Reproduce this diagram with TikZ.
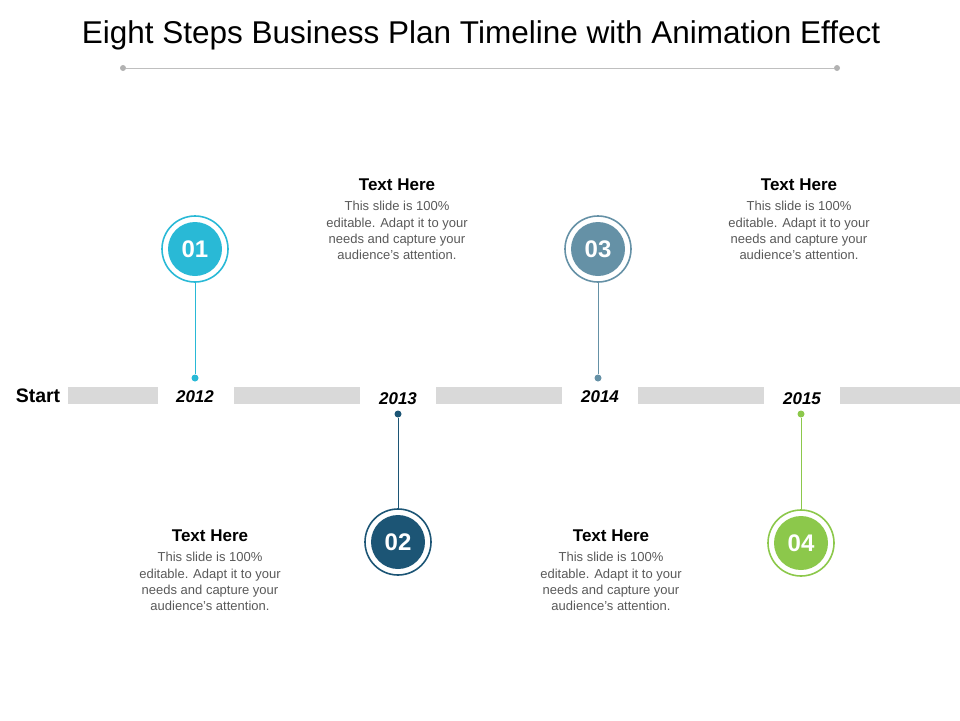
\documentclass[tikz,border=0pt]{standalone}
\usepackage{fontspec}
\setmainfont{Liberation Sans}
\definecolor{cA}{HTML}{29B9D6}
\definecolor{cB}{HTML}{1C5575}
\definecolor{cC}{HTML}{6591A6}
\definecolor{cD}{HTML}{8CC84B}
\definecolor{barg}{HTML}{D9D9D9}
\definecolor{bodyg}{HTML}{595959}
\begin{document}
\begin{tikzpicture}[x=1pt,y=-1pt,
  bar/.style={fill=barg,draw=none},
  ring/.style={circle,draw=#1,line width=1.6pt,minimum size=66pt,inner sep=0pt},
  disc/.style={circle,fill=#1,minimum size=54pt,inner sep=0pt,text=white,font=\fontsize{24}{28}\selectfont\bfseries},
  pin/.style={circle,fill=#1,minimum size=7pt,inner sep=0pt},
  conn/.style={draw=#1,line width=1pt},
  year/.style={font=\fontsize{17}{19}\selectfont\bfseries\itshape},
  ttl/.style={font=\fontsize{17}{19}\selectfont\bfseries},
  body/.style={align=center,text=bodyg,font=\fontsize{13}{16.3}\selectfont}]
\useasboundingbox (0,0) rectangle (960,720);
\node (title) at (481,35) {\fontsize{31.5}{34}\selectfont Eight Steps Business Plan Timeline with Animation Effect};
\node[circle,fill=black!30,minimum size=6pt,inner sep=0pt] (hl) at (123,68) {};
\node[circle,fill=black!30,minimum size=6pt,inner sep=0pt] (hr) at (837,68) {};
\draw[black!25,line width=0.8pt] (hl) -- (hr);
\foreach \a/\b in {68/158,234/360,436/562,638/764,840/960}
  \fill[bar] (\a,387) rectangle (\b,404);
\node[font=\fontsize{19.5}{22}\selectfont\bfseries] (start) at (38,396) {Start};
\node[year] (y1) at (195,397) {2012};
\node[year] (y2) at (398,399) {2013};
\node[year] (y3) at (600,397) {2014};
\node[year] (y4) at (802,399) {2015};
\foreach \n/\c/\x/\cy/\py in {01/cA/195/249/378, 02/cB/398/542/414, 03/cC/598/249/378, 04/cD/801/543/414}{
  \node[ring=\c] (r\n) at (\x,\cy) {};
  \node[disc=\c] (d\n) at (\x,\cy) {\n};
  \node[pin=\c] (p\n) at (\x,\py) {};
  \draw[conn=\c] (r\n) -- (p\n);
}
\foreach \i/\x/\y in {a/397/185,b/799/185,c/210/536,d/611/536}{
  \node[ttl] (t\i) at (\x,\y) {Text Here};
  \node[body,anchor=north] (b\i) at (\x,\y+13) {This slide is 100\%\\editable. Adapt it to your\\needs and capture your\\audience's attention.};
}
\end{tikzpicture}
\end{document}
